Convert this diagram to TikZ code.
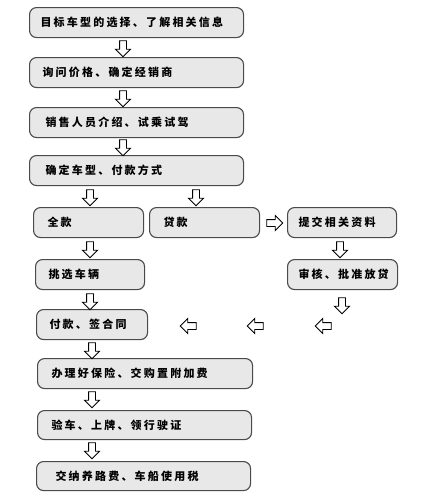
\documentclass[tikz,border=0pt]{standalone}
\usepackage{fontspec}
\newfontfamily\cjk{Noto Sans CJK SC}[LetterSpace=20]
\usetikzlibrary{shapes.arrows}
\definecolor{boxfill}{HTML}{E8E8E8}
\definecolor{boxline}{HTML}{4A4A4A}
\begin{document}
\begin{tikzpicture}[x=1pt,y=-1pt,
  box/.style={draw=boxline, line width=1.1pt, fill=boxfill, rounded corners=7pt,
    anchor=north west, minimum height=30pt, align=left, inner ysep=0pt,
    font=\cjk\bfseries\fontsize{11}{13}\selectfont},
  barrow/.style={single arrow, draw=black, line width=0.9pt, fill=white,
    minimum height=16pt, minimum width=14pt, single arrow head extend=4pt,
    inner sep=3pt, single arrow head indent=0pt}]
\useasboundingbox (0,0) rectangle (448,499);
% main column
\node[box, inner xsep=11pt, text width=192pt] (b1) at (29,7) {目标车型的选择、了解相关信息};
\node[box, inner xsep=13pt, text width=188pt] (b2) at (29,57) {询问价格、确定经销商};
\node[box, inner xsep=16pt, text width=182pt] (b3) at (29,107) {销售人员介绍、试乘试驾};
\node[box, inner xsep=16pt, text width=182pt] (b4) at (29,155) {确定车型、付款方式};
% branches
\node[box, inner xsep=14pt, text width=82pt] (b5) at (33,207) {全款};
\node[box, inner xsep=14pt, text width=82pt] (b6) at (149,207) {贷款};
\node[box, inner xsep=11pt, text width=87pt] (b7) at (287,207) {提交相关资料};
\node[box, inner xsep=13pt, text width=83pt] (b8) at (35,259) {挑选车辆};
\node[box, inner xsep=11pt, text width=88pt] (b9) at (287,259) {审核、批准放贷};
\node[box, inner xsep=13pt, text width=85pt] (b10) at (36,309) {付款、签合同};
% lower column
\node[box, inner xsep=14pt, text width=187pt] (b11) at (37,358) {办理好保险、交购置附加费};
\node[box, inner xsep=14pt, text width=186pt, minimum height=29pt] (b12) at (37,410) {验车、上牌、领行驶证};
\node[box, inner xsep=19pt, text width=176pt, minimum height=29pt] (b13) at (36,461) {交纳养路费、车船使用税};
% block arrows
\node[barrow, rotate=-90] (a1) at (123,47) {};
\node[barrow, rotate=-90] (a2) at (123,97) {};
\node[barrow, rotate=-90] (a3) at (123,146) {};
\node[barrow, rotate=-90] (a4) at (90,196) {};
\node[barrow, rotate=-90] (a5) at (196,196) {};
\node[barrow] (a6) at (273,223) {};
\node[barrow, rotate=-90] (a7) at (340,248) {};
\node[barrow, rotate=-90] (a8) at (90,248) {};
\node[barrow, rotate=-90] (a9) at (342,304) {};
\node[barrow, rotate=-90] (a10) at (90,300) {};
\node[barrow, rotate=180] (l1) at (325,326) {};
\node[barrow, rotate=180] (l2) at (257,326) {};
\node[barrow, rotate=180] (l3) at (190,326) {};
\node[barrow, rotate=-90] (a11) at (92,349) {};
\node[barrow, rotate=-90] (a12) at (92,398) {};
\node[barrow, rotate=-90] (a13) at (92,449) {};
\end{tikzpicture}
\end{document}
